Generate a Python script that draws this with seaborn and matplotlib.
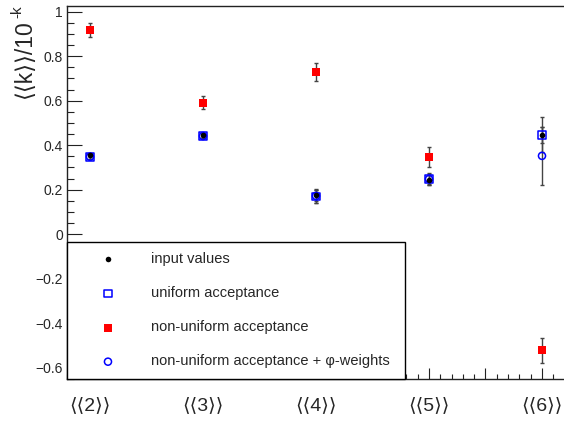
import numpy as np
import matplotlib
matplotlib.use("Agg")
import matplotlib.pyplot as plt
from matplotlib.ticker import FixedLocator, FixedFormatter, MultipleLocator
import seaborn as sns

# Cumulant orders and measured values (scaled by 10^k)
orders = ["⟨⟨2⟩⟩", "⟨⟨3⟩⟩", "⟨⟨4⟩⟩", "⟨⟨5⟩⟩", "⟨⟨6⟩⟩"]

input_vals = [0.356, 0.445, 0.175, 0.245, 0.445]
input_err = [0.010, 0.010, 0.025, 0.020, 0.035]

uniform_vals = [0.348, 0.442, 0.170, 0.247, 0.447]
uniform_err = [0.010, 0.010, 0.030, 0.025, 0.078]

nonuniform_vals = [0.918, 0.591, 0.729, 0.347, -0.522]
nonuniform_err = [0.031, 0.030, 0.040, 0.046, 0.054]

weighted_vals = [0.348, 0.441, 0.172, 0.248, 0.352]
weighted_err = [0.010, 0.010, 0.030, 0.025, 0.130]

sns.set_theme(style="white")
plt.rcParams["font.family"] = ["Liberation Sans", "DejaVu Sans"]

W, H = 564, 421
fig = plt.figure(figsize=(W / 100, H / 100), dpi=100)
ax = fig.add_axes([67 / W, 42 / H, (600 - 67) / W, (379 - 6) / H])

x = np.arange(len(orders))
err_kw = dict(fmt="none", ecolor="#444444", elinewidth=1.0, capsize=1.2, capthick=1.0)

ax.errorbar(x, nonuniform_vals, yerr=nonuniform_err, zorder=2, **err_kw)
ax.errorbar(x, weighted_vals, yerr=weighted_err, zorder=2, **err_kw)
ax.errorbar(x, uniform_vals, yerr=uniform_err, zorder=2, **err_kw)
ax.errorbar(x, input_vals, yerr=input_err, zorder=2, **err_kw)

sns.scatterplot(x=x, y=input_vals, ax=ax, marker="o", s=16, color="black",
                edgecolor="black", linewidth=0, label="input values", zorder=6)
sns.scatterplot(x=x, y=uniform_vals, ax=ax, marker="s", s=30, facecolor="none",
                edgecolor="#0000ff", linewidth=1.1, label="uniform acceptance", zorder=5)
sns.scatterplot(x=x, y=nonuniform_vals, ax=ax, marker="s", s=34, color="#ff0000",
                edgecolor="#ff0000", linewidth=0, label="non-uniform acceptance", zorder=3)
sns.scatterplot(x=x, y=weighted_vals, ax=ax, marker="o", s=26, facecolor="none",
                edgecolor="#0000ff", linewidth=1.1,
                label="non-uniform acceptance + φ-weights", zorder=4)

ax.set_xlim(-23 / 113, (600 - 90) / 113)
ax.set_ylim(-0.65, 1.025)

# x axis: ticks every half step, labels at the cumulant orders
major_pos = np.arange(0, 5, 0.5)
major_lab = [orders[int(p)] if float(p).is_integer() else "" for p in major_pos]
ax.xaxis.set_major_locator(FixedLocator(major_pos))
ax.xaxis.set_major_formatter(FixedFormatter(major_lab))
ax.xaxis.set_minor_locator(MultipleLocator(0.1))
ax.yaxis.set_major_locator(MultipleLocator(0.2))
ax.yaxis.set_minor_locator(MultipleLocator(0.05))

ax.tick_params(axis="x", which="major", direction="in", length=8, width=0.8,
               color="#222222", labelsize=14, pad=13, bottom=True)
ax.tick_params(axis="x", which="minor", direction="in", length=3.8, width=0.8,
               color="#222222", bottom=True)
ax.tick_params(axis="y", which="major", direction="in", length=10.8, width=0.8,
               color="#222222", labelsize=10, pad=3, left=True)
ax.tick_params(axis="y", which="minor", direction="in", length=5, width=0.8,
               color="#222222", left=True)
ax.set_yticklabels([f"{v:g}".replace("-", "\u2212") for v in ax.get_yticks()])

for side in ["left", "bottom", "top", "right"]:
    ax.spines[side].set_color("#222222")
    ax.spines[side].set_linewidth(1.0)

ax.set_xlabel("")
ax.set_ylabel("")

# y-axis title with a raised exponent
ytitle = fig.text(24 / W, 1 - 19 / H, "⟨⟨k⟩⟩/10", rotation=90, ha="center",
                  va="top", fontsize=16.5)
fig.canvas.draw()
ax.annotate("-k", xy=(0.22, 1.0), xycoords=ytitle, xytext=(0, 0.5),
            textcoords="offset points", rotation=90, ha="center",
            va="bottom", fontsize=11, annotation_clip=False)

leg = ax.legend(loc="lower left", bbox_to_anchor=(67 / W, 42 / H, 338 / W, 138 / H),
                bbox_transform=fig.transFigure, mode="expand", borderaxespad=0,
                fontsize=10.5, frameon=True, fancybox=False, framealpha=1,
                edgecolor="black", borderpad=0.72, labelspacing=1.38,
                handlelength=4.18, handletextpad=0.86)
leg.get_frame().set_linewidth(1.0)
leg.set_zorder(10)

fig.savefig("out.png", dpi=100)
